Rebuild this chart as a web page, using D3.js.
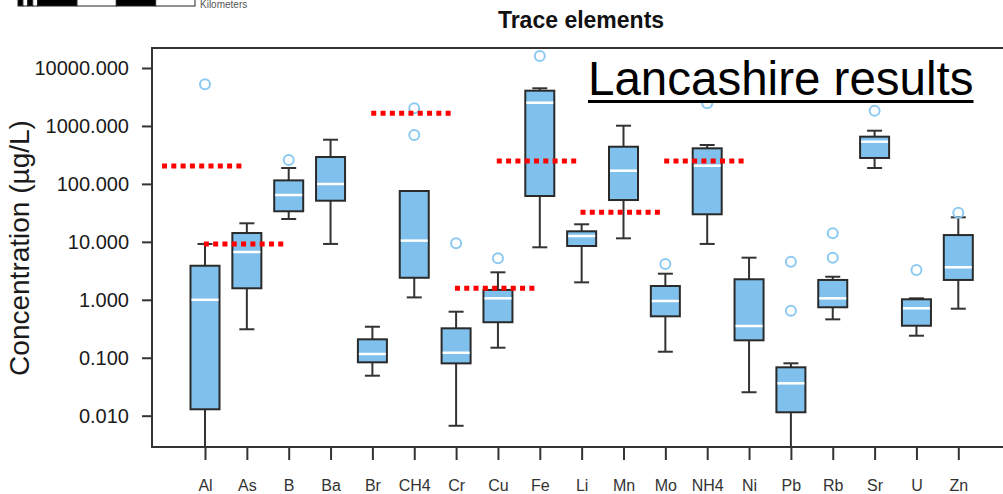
<!DOCTYPE html>
<html>
<head>
<meta charset="utf-8">
<script src="https://cdn.jsdelivr.net/npm/d3@7"></script>
<style>
	body { margin: 0; background: #fff; }
	svg { display: block; font-family: "Liberation Sans", Arial, sans-serif; }
</style>
</head>
<body>
<svg width="1003" height="494"></svg>
<script>
// element names along the x axis
let categories = ['Al', 'As', 'B', 'Ba', 'Br', 'CH4', 'Cr', 'Cu', 'Fe', 'Li', 'Mn', 'Mo', 'NH4', 'Ni', 'Pb', 'Rb', 'Sr', 'U', 'Zn'];

// box plot stats (µg/L)
let whiskerLow = [0.001, 0.31, 24.8, 9.2, 0.049, 1.10, 0.0067, 0.149, 8.05, 2.0, 11.5, 0.127, 9.2, 0.0254, 0.001, 0.46, 188, 0.24, 0.702];
let q1 = [0.0129, 1.58, 33.7, 51.3, 0.0834, 2.40, 0.080, 0.41, 61.8, 8.48, 52.7, 0.519, 29.9, 0.2, 0.01145, 0.743, 280, 0.357, 2.2];
let medians = [1.0, 6.68, 64.3, 99.6, 0.116, 10.5, 0.122, 1.06, 2518, 12.6, 169, 0.953, 206, 0.353, 0.0362, 1.06, 535, 0.713, 3.64];
let q3 = [3.87, 14.2, 115, 291, 0.208, 75.4, 0.322, 1.48, 4058, 15.2, 438, 1.73, 411, 2.26, 0.0684, 2.2, 653, 1.02, 13.1];
let whiskerHigh = [9.2, 20.9, 188, 579, 0.343, 75.4, 0.623, 2.98, 4467, 20.1, 1010, 2.82, 469, 5.33, 0.0802, 2.5, 828, 1.06, 26.5];
let outliers = [[5230], [], [258], [], [], [698, 2018], [9.44], [5.2], [16100], [], [], [4.15], [2460], [], [0.649, 4.54], [5.33, 14.1], [1833], [3.27], [31.8]];

// guideline values (red dotted)
let limitNames = ['Al', 'As', 'CH4', 'Cu', 'Fe', 'Mn', 'NH4'];
let limitValues = [204, 9.2, 1650, 1.58, 248, 32.4, 248];

let yTicks = [0.01, 0.1, 1, 10, 100, 1000, 10000];

// scale bar segments left over from the map slide (km)
let barStops = [0, 0.5, 1, 1.5, 2, 6, 10, 14, 18];

let svg = d3.select('svg');

let plotLeft = 152, plotTop = 48, plotBottom = 447, plotRight = 1003;

let x = d3.scalePoint().domain(categories).range([205, 958.3]);
let y = d3.scaleLog().domain([0.01, 10000]).range([415.7, 68]);
let boxW = 29, capW = 15;

let stats = categories.map((c, i) => ({
	name: c, lo: whiskerLow[i], q1: q1[i], med: medians[i], q3: q3[i], hi: whiskerHigh[i], out: outliers[i]
}));

// scale bar at the top
let bx = d3.scaleLinear().domain([0, 18]).range([18, 195]);
svg.append('g').selectAll('rect')
	.data(d3.pairs(barStops))
	.enter().append('rect')
	.attr('x', d => bx(d[0]))
	.attr('y', -2)
	.attr('width', d => bx(d[1]) - bx(d[0]))
	.attr('height', 8)
	.attr('fill', (d, i) => i % 2 === 0 ? '#000' : '#fff')
	.attr('stroke', '#222').attr('stroke-width', 1);
svg.append('text').attr('x', 200).attr('y', 8)
	.attr('font-size', 10).attr('fill', '#555').text('Kilometers');

// title
svg.append('text').attr('x', 581).attr('y', 28)
	.attr('text-anchor', 'middle').attr('font-size', 23).attr('font-weight', 'bold')
	.attr('fill', '#111').text('Trace elements');

// frame
let frame = svg.append('g').attr('stroke', '#333').attr('stroke-width', 2).attr('fill', 'none');
frame.append('path').attr('d', `M${plotRight},${plotTop}H${plotLeft}V${plotBottom}H${plotRight}`);

// y axis
let yAxis = svg.append('g').attr('transform', `translate(${plotLeft},0)`)
	.call(d3.axisLeft(y).tickValues(yTicks).tickFormat(d3.format('.3f')).tickSize(10).tickPadding(13));
yAxis.select('.domain').remove();
yAxis.selectAll('line').attr('stroke', '#333').attr('stroke-width', 2);
yAxis.selectAll('text').attr('font-size', 20).attr('fill', '#1a1a1a')
	.attr('font-family', '"Liberation Sans", Arial, sans-serif');

// x axis
let xAxis = svg.append('g').attr('transform', `translate(0,${plotBottom})`)
	.call(d3.axisBottom(x).tickSize(13).tickPadding(20));
xAxis.select('.domain').remove();
xAxis.selectAll('line').attr('stroke', '#333').attr('stroke-width', 2);
xAxis.selectAll('text').attr('font-size', 16).attr('fill', '#333')
	.attr('font-family', '"Liberation Sans", Arial, sans-serif');

svg.append('text')
	.attr('transform', 'translate(29,248) rotate(-90)')
	.attr('text-anchor', 'middle').attr('font-size', 28).attr('fill', '#1a1a1a')
	.text('Concentration (µg/L)');

// clip so whiskers stop at the plot frame
svg.append('clipPath').attr('id', 'plotClip')
	.append('rect').attr('x', plotLeft).attr('y', plotTop)
	.attr('width', plotRight - plotLeft).attr('height', plotBottom - plotTop);

let boxes = svg.append('g').attr('clip-path', 'url(#plotClip)')
	.selectAll('.box').data(stats).enter()
	.append('g').attr('class', 'box')
	.attr('transform', d => `translate(${x(d.name)},0)`);

boxes.append('line')
	.attr('y1', d => y(d.lo)).attr('y2', d => y(d.hi))
	.attr('stroke', '#333').attr('stroke-width', 2);
boxes.append('line')
	.attr('x1', -capW / 2).attr('x2', capW / 2)
	.attr('y1', d => y(d.hi)).attr('y2', d => y(d.hi))
	.attr('stroke', '#333').attr('stroke-width', 2);
boxes.append('line')
	.attr('x1', -capW / 2).attr('x2', capW / 2)
	.attr('y1', d => y(d.lo)).attr('y2', d => y(d.lo))
	.attr('stroke', '#333').attr('stroke-width', 2);
boxes.append('rect')
	.attr('x', -boxW / 2).attr('width', boxW)
	.attr('y', d => y(d.q3)).attr('height', d => y(d.q1) - y(d.q3))
	.attr('fill', '#7fc0ec').attr('stroke', '#2a2a2a').attr('stroke-width', 2);
boxes.append('line')
	.attr('x1', -boxW / 2 + 1).attr('x2', boxW / 2 - 1)
	.attr('y1', d => y(d.med)).attr('y2', d => y(d.med))
	.attr('stroke', '#fff').attr('stroke-width', 2.5);
boxes.selectAll('circle').data(d => d.out).enter()
	.append('circle')
	.attr('cy', d => y(d)).attr('r', 5)
	.attr('fill', 'none').attr('stroke', '#8dcaf2').attr('stroke-width', 2);

// red dotted guideline values
svg.append('g').selectAll('line')
	.data(limitNames.map((n, i) => ({name: n, value: limitValues[i]})))
	.enter().append('line')
	.attr('x1', d => x(d.name) - 43).attr('x2', d => x(d.name) + 37)
	.attr('y1', d => y(d.value)).attr('y2', d => y(d.value))
	.attr('stroke', '#ff0000').attr('stroke-width', 5)
	.attr('stroke-dasharray', '5,4.3');

// overlaid slide text
let bg = svg.append('rect').attr('fill', '#fff');
let label = svg.append('text').attr('x', 588).attr('y', 95)
	.attr('font-size', 47.5).attr('fill', '#000').text('Lancashire results');
let lw = label.node().getComputedTextLength();
bg.attr('x', 584).attr('y', 53).attr('width', lw + 8).attr('height', 47);
svg.append('line').attr('x1', 588).attr('x2', 588 + lw)
	.attr('y1', 101.5).attr('y2', 101.5)
	.attr('stroke', '#000').attr('stroke-width', 3);
</script>
</body>
</html>
